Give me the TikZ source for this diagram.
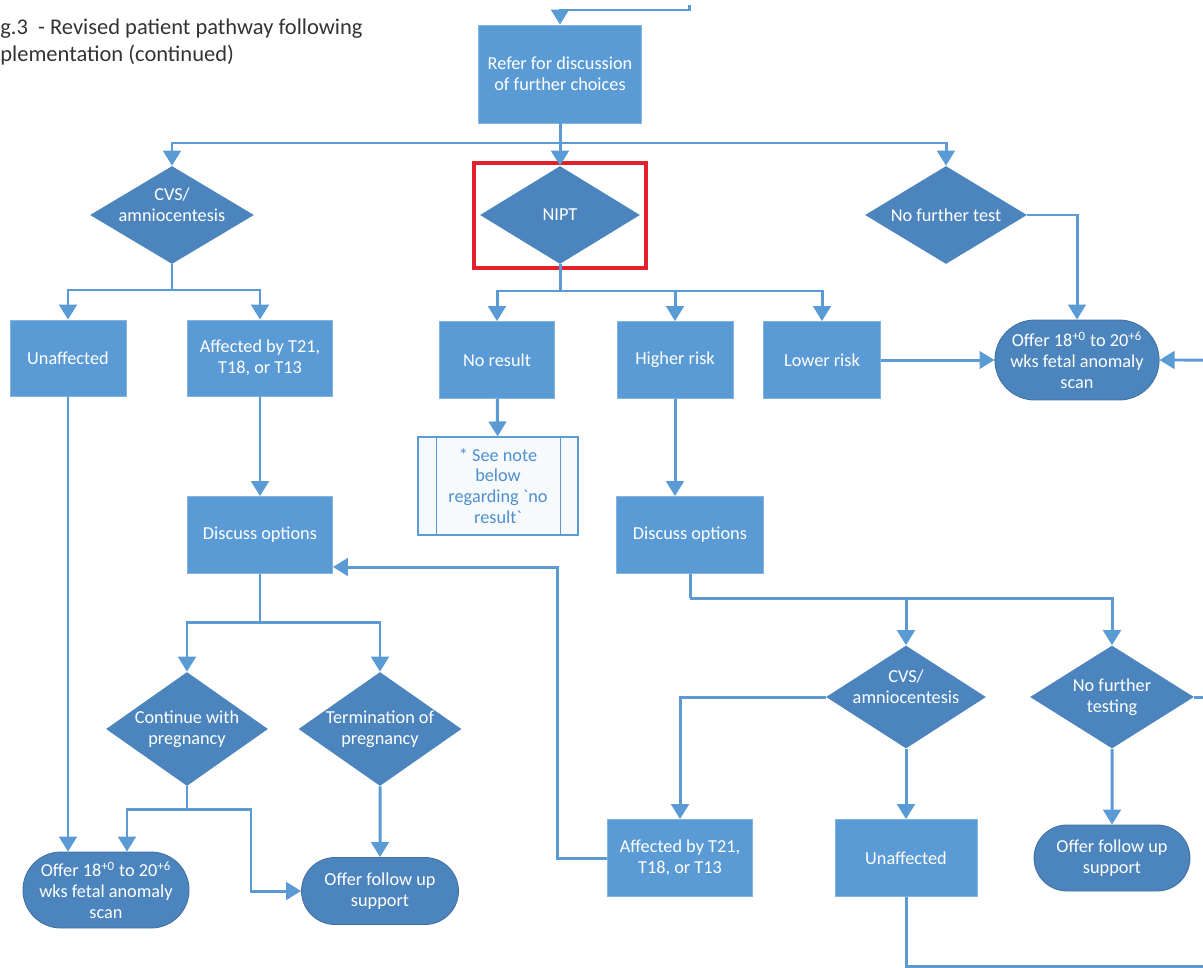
\documentclass[tikz,border=0pt]{standalone}
\usepackage{fontspec}
\setmainfont{Carlito}
\usepackage{xcolor}
\usepackage{tikz}
\usetikzlibrary{shapes,arrows.meta,positioning,calc}
\definecolor{boxblue}{HTML}{5B9BD5}
\definecolor{dkblue}{HTML}{4C85BD}
\definecolor{noteblue}{HTML}{4F8FCF}
\definecolor{markred}{HTML}{E3212B}
\newcommand{\boxtext}{\fontsize{10.4}{11.9}\selectfont}
\newcommand{\titletext}{\fontsize{12.8}{15.3}\selectfont}
\tikzstyle{stepbox} = [rectangle, fill=boxblue, draw=boxblue!75!white, line width=0.5pt, text=white, align=center, font=\boxtext, inner sep=2pt]
\tikzstyle{choice} = [diamond, fill=dkblue, inner sep=0pt]
\tikzstyle{choicetext} = [text=white, align=center, font=\boxtext, inner sep=0pt]
\tikzstyle{endcap} = [rounded rectangle, fill=dkblue, draw=dkblue!85!black, line width=0.5pt, text=white, align=center, font=\boxtext, inner sep=2pt]
\tikzstyle{notebox} = [rectangle, fill=boxblue!5, draw=boxblue, line width=0.7pt, text=noteblue, align=center, font=\boxtext, minimum width=3.2cm, minimum height=1.96cm]
\tikzstyle{hilite} = [rectangle, draw=markred, line width=2.3pt, minimum width=3.44cm, minimum height=2.1cm]
\tikzstyle{link} = [draw=boxblue, line width=1.7pt]
\tikzstyle{flow} = [link, -{Triangle[length=8.5pt,width=10pt]}]

\begin{document}
\begin{tikzpicture}[x=0.02cm, y=-0.02cm]
    \useasboundingbox (0,0) rectangle (1203,967);
    \node[anchor=north west, inner sep=0pt, align=left, font=\titletext, text=black!80] (title) at (0,19) {g.3~ - Revised patient pathway following\\plementation (continued)};
    % top row
    \node[stepbox, minimum width=3.26cm, minimum height=1.96cm] (refer) at (560,74) {Refer for discussion\\of further choices};
    \node[choice, minimum width=3.28cm, minimum height=1.96cm, label={[choicetext, yshift=0.2cm]center:{CVS/\\amniocentesis}}] (cvsA) at (172,215) {};
    \node[choice, minimum width=3.2cm, minimum height=1.96cm, label={[choicetext]center:NIPT}] (nipt) at (560,215) {};
    \node[choice, minimum width=3.24cm, minimum height=1.96cm, label={[choicetext]center:No further test}] (nofurther) at (946,215) {};
    \node[hilite] (mark) at (560,215.5) {};
    % second row
    \node[stepbox, minimum width=2.32cm, minimum height=1.52cm] (unaffA) at (68,358) {Unaffected};
    \node[stepbox, minimum width=2.9cm, minimum height=1.52cm] (affA) at (260,358) {Affected by T21,\\T18, or T13};
    \node[stepbox, minimum width=2.3cm, minimum height=1.54cm] (noresult) at (497,360) {No result};
    \node[stepbox, minimum width=2.32cm, minimum height=1.54cm] (higher) at (675,360) {Higher risk};
    \node[stepbox, minimum width=2.34cm, minimum height=1.54cm] (lower) at (822,360) {Lower risk};
    \node[endcap, minimum width=3.22cm, minimum height=1.6cm] (scanA) at (1077,360) {Offer 18\textsuperscript{+0} to 20\textsuperscript{+6}\\wks fetal anomaly\\scan};
    \node[notebox] (note) at (498,486) {* See note\\below\\regarding \textasciigrave no\\result\textasciigrave};
    \draw[draw=boxblue, line width=0.7pt] ([xshift=0.38cm]note.north west) -- ([xshift=0.38cm]note.south west);
    \draw[draw=boxblue, line width=0.7pt] ([xshift=-0.36cm]note.north east) -- ([xshift=-0.36cm]note.south east);
    % discuss options
    \node[stepbox, minimum width=2.9cm, minimum height=1.54cm] (discussA) at (260,535) {Discuss options};
    \node[stepbox, minimum width=2.94cm, minimum height=1.54cm] (discussB) at (690,535) {Discuss options};
    \node[choice, minimum width=3.24cm, minimum height=2.28cm, label={[choicetext]center:{Continue with\\pregnancy}}] (cont) at (187,729) {};
    \node[choice, minimum width=3.26cm, minimum height=2.28cm, label={[choicetext]center:{Termination of\\pregnancy}}] (term) at (380,729) {};
    \node[choice, minimum width=3.2cm, minimum height=2.06cm, label={[choicetext, yshift=0.2cm]center:{CVS/\\amniocentesis}}] (cvsB) at (906,697) {};
    \node[choice, minimum width=3.28cm, minimum height=2.06cm, label={[choicetext]center:{No further\\testing}}] (nofurtherB) at (1112,697) {};
    % bottom row
    \node[endcap, minimum width=3.26cm, minimum height=1.52cm] (scanB) at (106,890) {Offer 18\textsuperscript{+0} to 20\textsuperscript{+6}\\wks fetal anomaly\\scan};
    \node[endcap, minimum width=3.28cm, minimum height=1.34cm] (supportA) at (380,891) {Offer follow up\\support};
    \node[stepbox, minimum width=2.9cm, minimum height=1.54cm] (affB) at (680,858) {Affected by T21,\\T18, or T13};
    \node[stepbox, minimum width=2.84cm, minimum height=1.54cm] (unaffB) at (906,858) {Unaffected};
    \node[endcap, minimum width=3.26cm, minimum height=1.32cm] (supportB) at (1112,858) {Offer follow up\\support};
    % branch points
    \coordinate (prevPage) at (689,5);
    \coordinate (topBend) at (560,10);
    \coordinate (splitA) at (560,143);
    \coordinate (splitB) at (172,290);
    \coordinate (splitC) at (560,291);
    \coordinate (splitD) at (260,622);
    \coordinate (splitE) at (187,809);
    \coordinate (bendE) at (251,809);
    \coordinate (splitF) at (690,598);
    \coordinate (backUp) at (557,567);
    \coordinate (fromRight) at (1203,360);
    \coordinate (toRight) at (1203,697);
    \coordinate (toBottom) at (1203,966);
    % connectors
    \draw[flow] (prevPage) |- (topBend) -- (refer);
    \draw[link] (refer) -- (splitA);
    \draw[flow] (splitA) -| (cvsA);
    \draw[flow] (splitA) -- (nipt);
    \draw[flow] (splitA) -| (nofurther);
    \draw[link] (cvsA) -- (splitB);
    \draw[flow] (splitB) -| (unaffA);
    \draw[flow] (splitB) -| (affA);
    \draw[link] (nipt) -- (splitC);
    \draw[flow] (splitC) -| (noresult);
    \draw[flow] (splitC) -| (higher);
    \draw[flow] (splitC) -| (lower);
    \draw[flow] (nofurther.east) -| (scanA);
    \draw[flow] (lower) -- (scanA);
    \draw[flow] (fromRight) -- (scanA);
    \draw[flow] (noresult) -- (note);
    \draw[flow] (unaffA) -- (unaffA |- scanB.north);
    \draw[flow] (affA) -- (discussA);
    \draw[link] (discussA) -- (splitD);
    \draw[flow] (splitD) -| (cont);
    \draw[flow] (splitD) -| (term);
    \draw[link] (cont) -- (splitE);
    \draw[flow] (splitE) -| ([xshift=0.42cm]scanB.north);
    \draw[flow] (splitE) -- (bendE) |- (supportA);
    \draw[flow] (term) -- (supportA);
    \draw[flow] (higher) -- (higher |- discussB.north);
    \draw[link] (discussB) -- (splitF);
    \draw[flow] (splitF) -| (cvsB);
    \draw[flow] (splitF) -| (nofurtherB);
    \draw[flow] (cvsB) -| (affB);
    \draw[flow] (cvsB) -- (unaffB);
    \draw[flow] (nofurtherB) -- (supportB);
    \draw[link] (nofurtherB) -- (toRight);
    \draw[link] (unaffB) |- (toBottom);
    \draw[flow] (affB) -| (backUp) -- (backUp -| discussA.east);
\end{tikzpicture}
\end{document}
